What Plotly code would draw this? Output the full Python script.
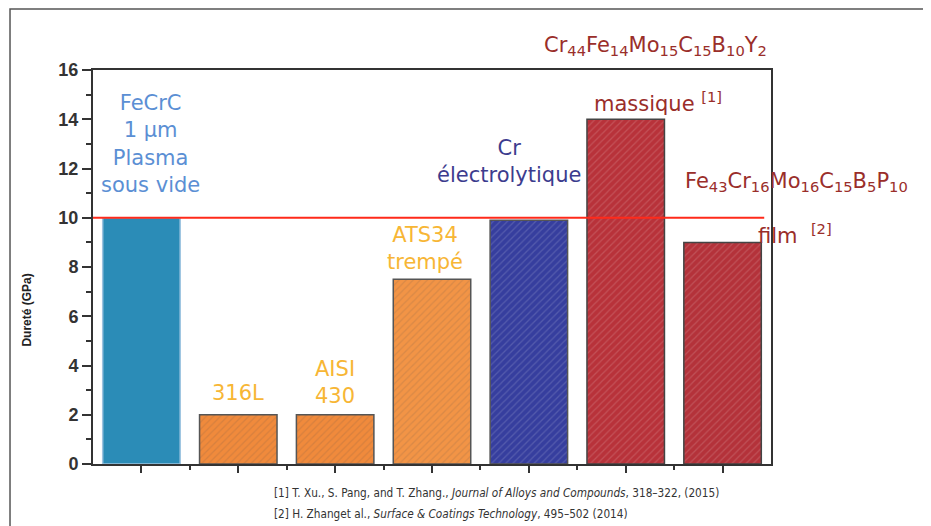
import plotly.graph_objects as go

# ---- data ----
categories = ["FeCrC plasma", "316L", "AISI 430", "ATS34 trempé", "Cr électrolytique",
              "Cr44Fe14Mo15C15B10Y2 massique", "Fe43Cr16Mo16C15B5P10 film"]
positions = [1, 2, 3, 4, 5, 6, 7]
hardness = [10.0, 2.0, 2.0, 7.5, 9.9, 14.0, 9.0]
bar_colors = ["#2b8cb7", "#f08a3c", "#f08a3c", "#f29446", "#363e9e", "#b8323a", "#b4323a"]
edge_colors = ["#9cc3e0", "#555555", "#555555", "#555555", "#555555", "#444444", "#444444"]
reference_line = 10
y_ticks = [0, 2, 4, 6, 8, 10, 12, 14, 16]

fig = go.Figure()
fig.add_trace(go.Bar(
    x=positions, y=hardness, width=0.8,
    marker=dict(color=bar_colors,
                line=dict(color=edge_colors, width=1.5),
                pattern=dict(shape=["", "/", "/", "/", "/", "/", "/"], fillmode="overlay",
                             bgcolor=bar_colors, fgcolor="white", fgopacity=0.15,
                             size=5, solidity=0.25)),
    hovertext=categories, showlegend=False,
))

fig.add_shape(type="line", xref="paper", yref="y", x0=0, x1=0.99,
              y0=reference_line, y1=reference_line, line=dict(color="#ff2a1a", width=2))
# outer frame
fig.add_shape(type="rect", xref="paper", yref="paper", x0=-0.1224, x1=1.227, y0=-0.3, y1=1.1548,
              line=dict(color="#555555", width=1.5), layer="below")

F = "DejaVu Sans"
light_blue = "#5b8fd4"
gold = "#f7b635"
dblue = "#3c3c8e"
dred = "#9a2e2a"

def ann(x, y, text, color, size=21, ref="x"):
    fig.add_annotation(x=x, y=y, xref=ref, yref=("y" if ref == "x" else "paper"), text=text,
                       showarrow=False, font=dict(family=F, size=size, color=color),
                       xanchor="center", yanchor="middle")

ann(1.09, 13.0, "FeCrC<br>1 µm<br>Plasma<br>sous vide", light_blue)
ann(2.0, 2.9, "316L", gold)
ann(3.0, 3.3, "AISI<br>430", gold)
ann(3.93, 8.75, "ATS34<br>trempé", gold)
ann(4.8, 12.3, "Cr<br>électrolytique", dblue)
ann(6.33, 14.7, "massique <sup>[1]</sup>", dred)
ann(0.829, 1.061, "Cr<sub>44</sub>Fe<sub>14</sub>Mo<sub>15</sub>C<sub>15</sub>B<sub>10</sub>Y<sub>2</sub>", dred, ref="paper")
ann(1.038, 0.717, "Fe<sub>43</sub>Cr<sub>16</sub>Mo<sub>16</sub>C<sub>15</sub>B<sub>5</sub>P<sub>10</sub>", dred, ref="paper")
ann(1.036, 0.584, "film  <sup>[2]</sup>", dred, ref="paper")

fig.add_annotation(x=-0.097, y=0.39, xref="paper", yref="paper", text="<b>Dureté (GPa)</b>",
                   xanchor="center", yanchor="middle",
                   textangle=-90, showarrow=False, font=dict(family="Liberation Sans", size=12, color="#222222"))

ref_font = dict(family="Liberation Sans Narrow, DejaVu Sans Condensed", size=11.7, color="#333333")
fig.add_annotation(x=0.264, y=-0.074, xref="paper", yref="paper", xanchor="left", yanchor="middle",
                   text="[1] T. Xu., S. Pang, and T. Zhang., <i>Journal of Alloys and Compounds</i>, 318–322, (2015)",
                   showarrow=False, font=ref_font)
fig.add_annotation(x=0.264, y=-0.127, xref="paper", yref="paper", xanchor="left", yanchor="middle",
                   text="[2] H. Zhanget al., <i>Surface &amp; Coatings Technology</i>, 495–502 (2014)",
                   showarrow=False, font=ref_font)

fig.update_layout(
    width=931, height=526,
    margin=dict(l=85, r=168, t=62, b=70),
    paper_bgcolor="white", plot_bgcolor="white",
    bargap=0.2,
    xaxis=dict(range=[0.5, 7.5], tickvals=positions, showticklabels=False, ticks="outside",
               ticklen=7, tickwidth=1.5, tickcolor="#333333",
               minor=dict(tickvals=[1.5, 2.5, 3.5, 4.5, 5.5, 6.5], ticks="outside", ticklen=4,
                          tickcolor="#333333", tickwidth=1.5),
               showline=True, linecolor="#333333", linewidth=2, mirror=True,
               showgrid=False, zeroline=False),
    yaxis=dict(range=[0, 16], tickvals=y_ticks, ticks="outside", ticklen=9, tickwidth=1.5,
               tickcolor="#333333",
               minor=dict(dtick=1, ticks="outside", ticklen=5, tickcolor="#333333", tickwidth=1.5),
               tickfont=dict(family="Liberation Sans", size=18, color="#333333", weight="bold"),
               showline=True, linecolor="#333333", linewidth=2, mirror=True,
               showgrid=False, zeroline=False),
)

fig.write_html("out.html")
